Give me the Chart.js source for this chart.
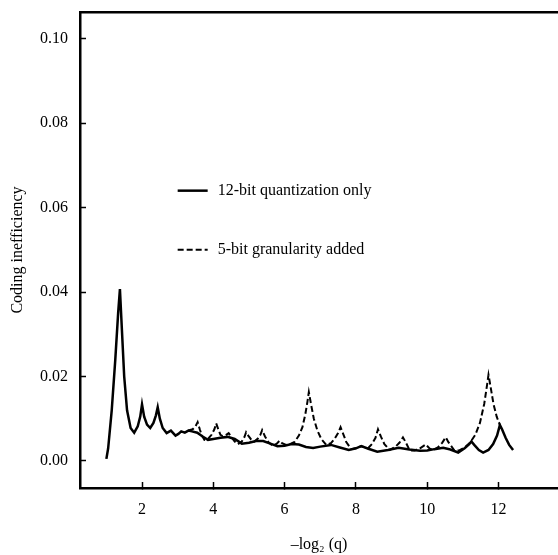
<!DOCTYPE html>
<html>
<head>
<meta charset="utf-8">
<script src="https://cdn.jsdelivr.net/npm/chart.js@4.4.1/dist/chart.umd.min.js"></script>
<style>
  html, body { margin: 0; padding: 0; background: #fff; }
</style>
</head>
<body>
<canvas id="myChart" width="558" height="555"></canvas>
<script>
const solidLabel = '12-bit quantization only';
const dashedLabel = '5-bit granularity added';

const solidX = [1.00, 1.05, 1.15, 1.25, 1.33, 1.38, 1.43, 1.50, 1.58, 1.68, 1.78, 1.88, 1.95, 2.00, 2.06, 2.14, 2.23, 2.32, 2.39, 2.44,
  2.50, 2.58, 2.69, 2.81, 2.94, 3.02, 3.10, 3.20, 3.30, 3.40, 3.55, 3.70, 3.85, 4.00, 4.20, 4.40, 4.60, 4.80, 5.00, 5.20,
  5.40, 5.60, 5.80, 6.00, 6.20, 6.40, 6.60, 6.80, 7.00, 7.30, 7.55, 7.80, 8.00, 8.15, 8.35, 8.60, 8.90, 9.20, 9.50, 9.80,
  10.00, 10.20, 10.45, 10.65, 10.87, 11.05, 11.18, 11.24, 11.32, 11.45, 11.57, 11.72, 11.85, 11.96, 12.04, 12.10, 12.20, 12.30, 12.41];
const solidY = [0.0005, 0.003, 0.012, 0.024, 0.035, 0.0407, 0.032, 0.020, 0.012, 0.0078, 0.0067, 0.0082, 0.0105, 0.0134, 0.0105, 0.0086, 0.0078, 0.0090, 0.0108, 0.0127,
  0.0100, 0.0078, 0.0066, 0.0072, 0.0060, 0.0064, 0.0070, 0.0067, 0.0072, 0.0070, 0.0067, 0.0058, 0.0050, 0.0052, 0.0055, 0.0057, 0.0052, 0.0041, 0.0043, 0.0047,
  0.0047, 0.0041, 0.0035, 0.0036, 0.0040, 0.0039, 0.0033, 0.0031, 0.0034, 0.0038, 0.0032, 0.0026, 0.0030, 0.0035, 0.0029, 0.0022, 0.0026, 0.0031, 0.0027, 0.0024,
  0.0025, 0.0028, 0.0031, 0.0027, 0.0020, 0.0030, 0.0040, 0.0046, 0.0038, 0.0026, 0.0020, 0.0026, 0.0040, 0.0060, 0.0085, 0.0075, 0.0055, 0.0038, 0.0026];

const dashedX = [3.30, 3.42, 3.50, 3.56, 3.62, 3.68, 3.75, 3.85, 3.95, 4.03, 4.08, 4.14, 4.20, 4.26, 4.35, 4.43, 4.52, 4.60, 4.69, 4.80,
  4.87, 4.92, 4.98, 5.06, 5.15, 5.25, 5.32, 5.37, 5.45, 5.55, 5.67, 5.78, 5.86, 5.93, 6.04, 6.15, 6.28, 6.40, 6.50, 6.58,
  6.64, 6.68, 6.74, 6.82, 6.92, 7.03, 7.17, 7.30, 7.40, 7.50, 7.57, 7.64, 7.73, 7.87, 8.00, 8.15, 8.34, 8.45, 8.55, 8.62,
  8.70, 8.80, 8.95, 9.10, 9.22, 9.32, 9.40, 9.51, 9.65, 9.80, 9.96, 10.06, 10.16, 10.30, 10.42, 10.52, 10.60, 10.77, 10.90, 11.05,
  11.20, 11.35, 11.48, 11.60, 11.68, 11.72, 11.78, 11.86, 11.95, 12.04];
const dashedY = [0.0072, 0.0075, 0.0082, 0.0092, 0.0075, 0.0060, 0.0050, 0.0052, 0.0062, 0.0075, 0.0089, 0.0075, 0.0062, 0.0059, 0.0061, 0.0066, 0.0055, 0.0046, 0.0040, 0.0046,
  0.0056, 0.0068, 0.0060, 0.0051, 0.0046, 0.0053, 0.0062, 0.0073, 0.0058, 0.0044, 0.0036, 0.0041, 0.0048, 0.0042, 0.0038, 0.0040, 0.0045, 0.0060, 0.0080, 0.0110,
  0.0140, 0.0163, 0.0135, 0.0100, 0.0072, 0.0052, 0.0038, 0.0042, 0.0052, 0.0066, 0.0080, 0.0065, 0.0045, 0.0028, 0.0030, 0.0035, 0.0030, 0.0040, 0.0055, 0.0075,
  0.0058, 0.0040, 0.0026, 0.0033, 0.0043, 0.0056, 0.0044, 0.0025, 0.0025, 0.0030, 0.0039, 0.0030, 0.0026, 0.0032, 0.0043, 0.0056, 0.0044, 0.0024, 0.0025, 0.0032,
  0.0043, 0.0062, 0.0090, 0.0135, 0.0180, 0.0204, 0.0175, 0.0135, 0.0105, 0.0085];

const xTicks = [2, 4, 6, 8, 10, 12];
const yTicks = [0.00, 0.02, 0.04, 0.06, 0.08, 0.10];

// where the in-plot key sits, in data units
const keyX = 3.0;
const keyY = [0.064, 0.050];

Chart.defaults.font.family = "'Liberation Serif', 'Times New Roman', serif";
Chart.defaults.font.size = 16;
Chart.defaults.color = '#000';

const toPoints = (xs, ys) => xs.map((x, i) => ({ x: x, y: ys[i] }));

// no extra room for half-labels: the frame sits where the figure puts it
const noPad = s => { s.paddingTop = 0; s.paddingBottom = 0; s.paddingLeft = 0; s.paddingRight = 0; };

const keyPlugin = {
  id: 'key',
  afterDatasetsDraw(chart) {
    const ctx = chart.ctx;
    const sx = chart.scales.x, sy = chart.scales.y;
    chart.data.datasets.forEach((ds, i) => {
      const x0 = sx.getPixelForValue(keyX);
      const y0 = sy.getPixelForValue(keyY[i]);
      ctx.save();
      ctx.strokeStyle = '#000';
      ctx.lineWidth = ds.borderWidth;
      ctx.setLineDash(ds.borderDash || []);
      ctx.beginPath();
      ctx.moveTo(x0, y0);
      ctx.lineTo(x0 + 30, y0);
      ctx.stroke();
      ctx.setLineDash([]);
      ctx.fillStyle = '#000';
      ctx.font = "16px 'Liberation Serif', serif";
      ctx.textBaseline = 'middle';
      ctx.fillText(ds.label, x0 + 40, y0);
      ctx.restore();
    });
  }
};

const data = {
  datasets: [
    {
      label: solidLabel,
      data: toPoints(solidX, solidY),
      borderColor: '#000',
      borderWidth: 2.5,
      pointRadius: 0,
      tension: 0
    },
    {
      label: dashedLabel,
      data: toPoints(dashedX, dashedY),
      borderColor: '#000',
      borderWidth: 2,
      borderDash: [6, 3],
      pointRadius: 0,
      tension: 0
    }
  ]
};

const config = {
  type: 'line',
  data: data,
  plugins: [keyPlugin],
  options: {
    responsive: false,
    animation: false,
    devicePixelRatio: 1,
    layout: { padding: { top: 12, right: 0, left: 0, bottom: 0 } },
    plugins: {
      legend: { display: false },
      tooltip: { enabled: false }
    },
    scales: {
      x: {
        type: 'linear',
        position: 'bottom',
        min: 0.26,
        max: 13.67,
        afterBuildTicks: s => { s.ticks = xTicks.map(v => ({ value: v })); },
        afterFit: s => { s.height = 67; noPad(s); },
        grid: { drawOnChartArea: false, tickLength: -6, tickWidth: 1.5, tickColor: '#000' },
        border: { color: '#000', width: 2.5 },
        ticks: { padding: 18, maxRotation: 0 },
        title: { display: true, text: '–log₂ (q)', padding: { top: 0, bottom: 1 } }
      },
      top: {
        type: 'linear',
        position: 'top',
        min: 0.26,
        max: 13.67,
        afterFit: s => { s.height = 0; noPad(s); },
        grid: { display: false },
        border: { color: '#000', width: 2.5 },
        ticks: { display: false }
      },
      y: {
        min: -0.0064,
        max: 0.1063,
        afterBuildTicks: s => { s.ticks = yTicks.map(v => ({ value: v })); },
        afterFit: s => { s.width = 80; noPad(s); },
        grid: { drawOnChartArea: false, tickLength: -6, tickWidth: 1.5, tickColor: '#000' },
        border: { color: '#000', width: 2.5 },
        ticks: { padding: 18, callback: v => v.toFixed(2) },
        title: { display: true, text: 'Coding inefficiency', padding: { top: 8, bottom: 0 } }
      }
    }
  }
};

new Chart(document.getElementById('myChart'), config);
</script>
</body>
</html>
